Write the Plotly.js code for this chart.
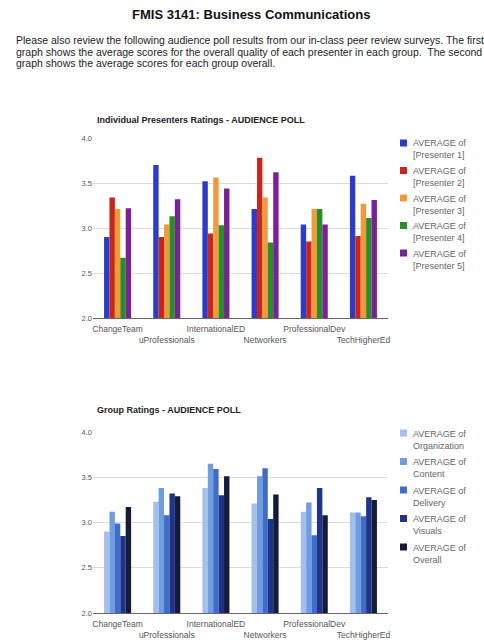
<!DOCTYPE html>
<html>
<head>
<meta charset="utf-8">
<script src="https://cdn.plot.ly/plotly-3.0.1.min.js"></script>
<style>
  html, body { margin: 0; padding: 0; background: #fff; }
  #page { width: 484px; height: 644px; }
</style>
</head>
<body>
<div id="page"></div>
<script>
// Group names shown on the category axes
const categories = ['ChangeTeam', 'uProfessionals', 'InternationalED', 'Networkers', 'ProfessionalDev', 'TechHigherEd'];
// Labels alternate between two rows so they do not collide
const tickLabels = ['ChangeTeam', '<br>uProfessionals', 'InternationalED', '<br>Networkers', 'ProfessionalDev', '<br>TechHigherEd'];

// Individual presenter averages per group
const presenter1 = [2.90, 3.70, 3.52, 3.21, 3.04, 3.58];
const presenter2 = [3.34, 2.90, 2.94, 3.78, 2.85, 2.91];
const presenter3 = [3.21, 3.04, 3.56, 3.34, 3.21, 3.27];
const presenter4 = [2.67, 3.13, 3.03, 2.84, 3.21, 3.11];
const presenter5 = [3.22, 3.32, 3.44, 3.62, 3.04, 3.31];
const presenterNames = ['AVERAGE of<br>[Presenter 1]', 'AVERAGE of<br>[Presenter 2]', 'AVERAGE of<br>[Presenter 3]', 'AVERAGE of<br>[Presenter 4]', 'AVERAGE of<br>[Presenter 5]'];

// Group rating averages per criterion
const organization = [2.90, 3.23, 3.38, 3.21, 3.12, 3.11];
const content      = [3.12, 3.38, 3.65, 3.51, 3.22, 3.11];
const delivery     = [2.99, 3.08, 3.59, 3.60, 2.86, 3.07];
const visuals      = [2.85, 3.32, 3.30, 3.04, 3.38, 3.28];
const overall      = [3.17, 3.29, 3.51, 3.31, 3.08, 3.25];
const criterionNames = ['AVERAGE of<br>Organization', 'AVERAGE of<br>Content', 'AVERAGE of<br>Delivery', 'AVERAGE of<br>Visuals', 'AVERAGE of<br>Overall'];

const yTicks = [2.0, 2.5, 3.0, 3.5, 4.0];

const presenterColors = ['#2b3cc6', '#c9261b', '#f09a3a', '#2a8c2a', '#7a2196'];
const criterionColors = ['#a3c0ea', '#6f9ddf', '#3d6dc6', '#1f3388', '#151b3a'];

const FONT = 'Liberation Sans, Arial, sans-serif';
const W = 484, H = 644;
const px = v => v / W;          // horizontal pixel -> paper
const py = v => 1 - v / H;      // vertical pixel -> paper

const presenterSeries = [presenter1, presenter2, presenter3, presenter4, presenter5];
const criterionSeries = [organization, content, delivery, visuals, overall];

const traces = [];
presenterSeries.forEach((vals, i) => traces.push({
  type: 'bar', x: categories, y: vals, name: presenterNames[i],
  marker: { color: presenterColors[i], line: { width: 0 } },
  xaxis: 'x', yaxis: 'y', showlegend: false
}));
criterionSeries.forEach((vals, i) => traces.push({
  type: 'bar', x: categories, y: vals, name: criterionNames[i],
  marker: { color: criterionColors[i], line: { width: 0 } },
  xaxis: 'x2', yaxis: 'y2', showlegend: false
}));

function xAxis(anchor) {
  return {
    domain: [px(93), px(388)], anchor: anchor,
    type: 'category', tickmode: 'array', tickvals: categories, ticktext: tickLabels,
    tickangle: 0, ticks: '', showgrid: false, zeroline: false,
    showline: true, linecolor: '#666', linewidth: 1, ticklabelstandoff: 3,
    tickfont: { family: FONT, size: 8.5, color: '#555' }, fixedrange: true
  };
}
function yAxis(anchor, top, bottom) {
  return {
    domain: [py(bottom), py(top)], anchor: anchor,
    range: [2, 4], tickmode: 'array', tickvals: yTicks, tickformat: '.1f',
    ticks: '', showgrid: true, gridcolor: '#dcdcdc', gridwidth: 1,
    zeroline: false, showline: false, ticklabelstandoff: 0,
    tickfont: { family: FONT, size: 7.5, color: '#555' }, fixedrange: true
  };
}

// Side keys: a small colour square and a two-line caption per series
const shapes = [];
const annotations = [];
function addKey(names, colors, firstCenter, step) {
  names.forEach((name, i) => {
    const c = firstCenter + i * step;
    shapes.push({ type: 'rect', xref: 'paper', yref: 'paper',
      x0: px(400), x1: px(407), y0: py(c + 3.5), y1: py(c - 3.5),
      fillcolor: colors[i], line: { width: 0 } });
    annotations.push({ text: name, x: px(411), y: py(c - 6.5), xref: 'paper', yref: 'paper',
      xanchor: 'left', yanchor: 'top', align: 'left', showarrow: false,
      font: { family: FONT, size: 9, color: '#666' } });
  });
}
addKey(presenterNames, presenterColors, 143, 27.5);
addKey(criterionNames, criterionColors, 433, 28.5);

annotations.push(
  { text: '<b>FMIS 3141: Business Communications</b>', x: px(251), y: py(15),
    xref: 'paper', yref: 'paper', xanchor: 'center', yanchor: 'middle', showarrow: false,
    font: { family: FONT, size: 13, color: '#111' } },
  { text: 'Please also review the following audience poll results from our in-class peer review surveys. The first',
    x: px(14), y: py(40), xref: 'paper', yref: 'paper', xanchor: 'left', yanchor: 'middle', showarrow: false,
    font: { family: FONT, size: 10.5, color: '#222' } },
  { text: 'graph shows the average scores for the overall quality of each presenter in each group.  The second',
    x: px(14), y: py(52), xref: 'paper', yref: 'paper', xanchor: 'left', yanchor: 'middle', showarrow: false,
    font: { family: FONT, size: 10.5, color: '#222' } },
  { text: 'graph shows the average scores for each group overall.',
    x: px(14), y: py(63), xref: 'paper', yref: 'paper', xanchor: 'left', yanchor: 'middle', showarrow: false,
    font: { family: FONT, size: 10.5, color: '#222' } },
  { text: '<b>Individual Presenters Ratings - AUDIENCE POLL</b>', x: px(95), y: py(120),
    xref: 'paper', yref: 'paper', xanchor: 'left', yanchor: 'middle', showarrow: false,
    font: { family: FONT, size: 9, color: '#222' } },
  { text: '<b>Group Ratings - AUDIENCE POLL</b>', x: px(95), y: py(410),
    xref: 'paper', yref: 'paper', xanchor: 'left', yanchor: 'middle', showarrow: false,
    font: { family: FONT, size: 9, color: '#222' } }
);

const layout = {
  width: W, height: H,
  margin: { l: 0, r: 0, t: 0, b: 0 },
  paper_bgcolor: '#fff', plot_bgcolor: '#fff',
  barmode: 'group', bargap: 0.45, bargroupgap: 0,
  showlegend: false,
  xaxis: xAxis('y'), yaxis: yAxis('x', 138, 318),
  xaxis2: xAxis('y2'), yaxis2: yAxis('x2', 432, 613),
  shapes: shapes,
  annotations: annotations
};

Plotly.newPlot('page', traces, layout, { displayModeBar: false, staticPlot: true });
</script>
</body>
</html>
